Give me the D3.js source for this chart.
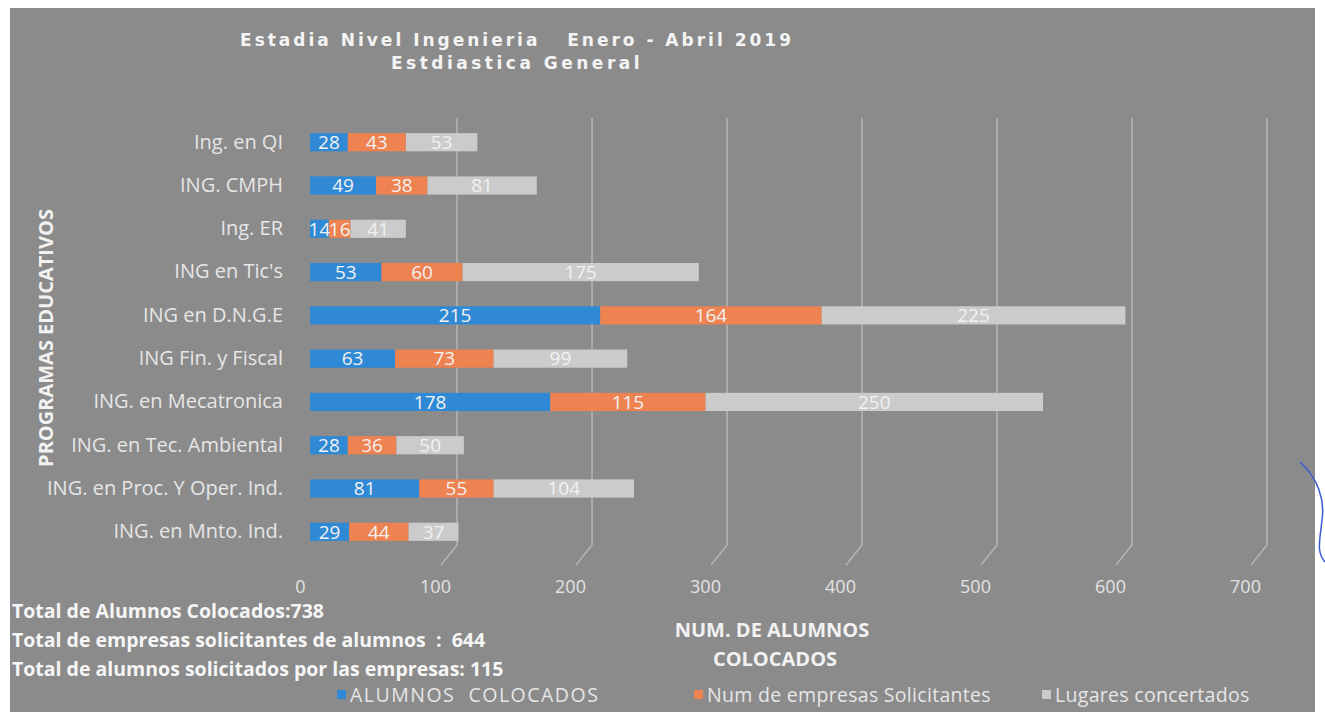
<!DOCTYPE html>
<html>
<head>
<meta charset="utf-8">
<script src="https://cdn.jsdelivr.net/npm/d3@7"></script>
<style>
  body { margin: 0; background: #fff; }
  svg { display: block; font-family: "Open Sans", "DejaVu Sans", sans-serif; }
</style>
</head>
<body>
<div id="chart"></div>
<script>

const programas = ["Ing. en QI", "ING. CMPH", "Ing. ER", "ING en Tic's", "ING en D.N.G.E",
  "ING Fin.  y Fiscal", "ING. en Mecatronica", "ING. en Tec. Ambiental",
  "ING. en Proc. Y Oper. Ind.", "ING. en Mnto. Ind."];
const colocados = [28, 49, 14, 53, 215, 63, 178, 28, 81, 29];
const empresas = [43, 38, 16, 60, 164, 73, 115, 36, 55, 44];
const lugares = [53, 81, 41, 175, 225, 99, 250, 50, 104, 37];
const seriesNames = ["ALUMNOS  COLOCADOS", "Num de empresas Solicitantes", "Lugares concertados"];
const xTicks = [0, 100, 200, 300, 400, 500, 600, 700];
const totales = ["Total de Alumnos Colocados:738",
  "Total de empresas solicitantes de alumnos  :  644",
  "Total de alumnos solicitados por las empresas: 115"];

const colors = ["#2f89d4", "#ee8250", "#cbcbcb"];

const width = 1325, height = 721;

const svg = d3.select("#chart")
  .append("svg")
  .attr("width", width)
  .attr("height", height);

// scanned page look: white paper, grey chart area
svg.append("rect")
  .attr("x", 10).attr("y", 8)
  .attr("width", 1305).attr("height", 704)
  .attr("fill", "#8b8b8b");

const x = d3.scaleLinear()
  .domain([0, 700])
  .range([310, 1255]);

const y = d3.scaleBand()
  .domain(programas)
  .range([121, 553])
  .paddingInner(0.58)
  .paddingOuter(0.28);

// 3D-ish gridlines (back wall shifted right, foot bending to the floor)
svg.append("g")
  .selectAll("path")
  .data(xTicks.slice(1))
  .enter()
  .append("path")
  .attr("d", function(d) {
    return "M" + (x(d) + 12) + ",118 L" + (x(d) + 12) + ",545 L" + (x(d) - 4) + ",565";
  })
  .attr("fill", "none")
  .attr("stroke", "#b4b4b4")
  .attr("stroke-width", 1.6);

// stacked data
const rows = programas.map(function(p, i) {
  return {programa: p, values: [colocados[i], empresas[i], lugares[i]]};
});

const segs = [];
rows.forEach(function(r) {
  let acc = 0;
  r.values.forEach(function(v, k) {
    segs.push({programa: r.programa, k: k, v: v, x0: acc, x1: acc + v});
    acc += v;
  });
});

svg.append("g")
  .selectAll("rect")
  .data(segs)
  .enter()
  .append("rect")
  .attr("x", function(d) { return x(d.x0); })
  .attr("y", function(d) { return y(d.programa); })
  .attr("width", function(d) { return x(d.x1) - x(d.x0); })
  .attr("height", y.bandwidth())
  .attr("fill", function(d) { return colors[d.k]; });

svg.append("g")
  .selectAll("text")
  .data(segs)
  .enter()
  .append("text")
  .attr("x", function(d) { return (x(d.x0) + x(d.x1)) / 2; })
  .attr("y", function(d) { return y(d.programa) + y.bandwidth() / 2; })
  .attr("dy", "0.36em")
  .attr("text-anchor", "middle")
  .attr("font-size", 19)
  .attr("fill", "#f2f2f2")
  .text(function(d) { return d.v; });

// category labels
const yAxis = d3.axisLeft(y).tickSize(0).tickPadding(0);
const gy = svg.append("g")
  .attr("transform", "translate(283,0)")
  .call(yAxis);
gy.select(".domain").remove();
gy.selectAll("text")
  .attr("font-size", 20)
  .attr("font-family", "Open Sans, sans-serif")
  .attr("fill", "#e6e6e6");

// x axis labels (shifted like the picture)
const xAxis = d3.axisBottom(x).tickValues(xTicks).tickSize(0).tickPadding(0);
const gx = svg.append("g")
  .attr("transform", "translate(-10,580)")
  .call(xAxis);
gx.select(".domain").remove();
gx.selectAll("text")
  .attr("font-size", 18)
  .attr("font-family", "Open Sans, sans-serif")
  .attr("fill", "#e3e3e3");

// title
svg.append("text")
  .attr("x", 517).attr("y", 46)
  .attr("text-anchor", "middle")
  .attr("font-size", 17).attr("font-weight", "bold")
  .attr("letter-spacing", 3)
  .attr("fill", "#f4f4f4")
  .attr("font-family", "DejaVu Sans, sans-serif")
  .attr("xml:space", "preserve")
  .text("Estadia Nivel Ingenieria   Enero - Abril 2019");
svg.append("text")
  .attr("x", 517).attr("y", 69)
  .attr("text-anchor", "middle")
  .attr("font-size", 17).attr("font-weight", "bold")
  .attr("letter-spacing", 3.5)
  .attr("fill", "#f4f4f4")
  .attr("font-family", "DejaVu Sans, sans-serif")
  .text("Estdiastica General");

// y axis title
svg.append("text")
  .attr("transform", "translate(53,338) rotate(-90)")
  .attr("text-anchor", "middle")
  .attr("font-size", 20).attr("font-weight", "bold")
  .attr("fill", "#f2f2f2")
  .text("PROGRAMAS EDUCATIVOS");

// x axis title
svg.append("text")
  .attr("x", 772).attr("y", 637)
  .attr("text-anchor", "middle")
  .attr("font-size", 20).attr("font-weight", "bold")
  .attr("fill", "#f2f2f2")
  .text("NUM. DE ALUMNOS");
svg.append("text")
  .attr("x", 775).attr("y", 666)
  .attr("text-anchor", "middle")
  .attr("font-size", 20).attr("font-weight", "bold")
  .attr("fill", "#f2f2f2")
  .text("COLOCADOS");

// totals
svg.append("g")
  .selectAll("text")
  .data(totales)
  .enter()
  .append("text")
  .attr("x", 12)
  .attr("y", function(d, i) { return 618 + i * 29; })
  .attr("font-size", 19.5).attr("font-weight", "bold")
  .attr("fill", "#f6f6f6")
  .attr("xml:space", "preserve")
  .text(function(d) { return d; });

// legend
const legendX = [337, 694, 1042];
const legend = svg.append("g")
  .selectAll("g")
  .data(seriesNames)
  .enter()
  .append("g")
  .attr("transform", function(d, i) { return "translate(" + legendX[i] + ",695)"; });
legend.append("rect")
  .attr("x", 0).attr("y", -5)
  .attr("width", 9).attr("height", 9)
  .attr("fill", function(d, i) { return colors[i]; });
legend.append("text")
  .attr("x", 13).attr("dy", "0.36em")
  .attr("font-size", 19.5)
  .attr("letter-spacing", function(d, i) { return i === 0 ? 1.5 : 0.3; })
  .attr("fill", "#e6e6e6")
  .attr("xml:space", "preserve")
  .text(function(d) { return d; });

// pen mark on the right edge of the scan
svg.append("path")
  .attr("d", "M1300,462 C1318,478 1325,500 1322,520 C1320,540 1316,552 1325,562")
  .attr("fill", "none")
  .attr("stroke", "#3b5bd6")
  .attr("stroke-width", 1.5);

</script>
</body>
</html>
